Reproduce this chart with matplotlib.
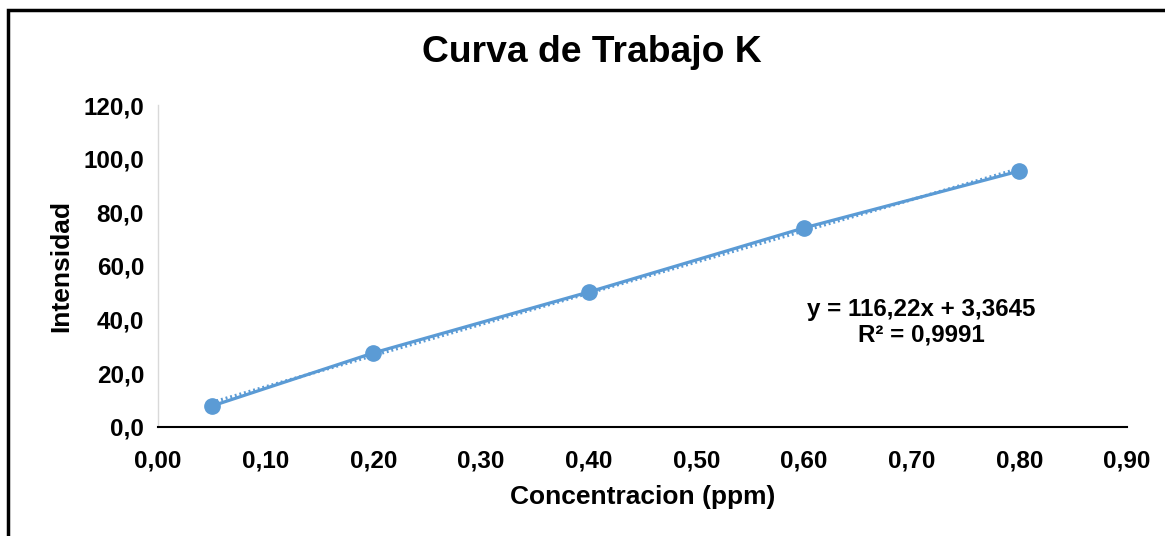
import matplotlib
matplotlib.use("Agg")
import matplotlib.pyplot as plt
from matplotlib.patches import Rectangle
import numpy as np

plt.rcParams['font.family'] = ['Liberation Sans', 'DejaVu Sans']

conc = [0.05, 0.20, 0.40, 0.60, 0.80]
intens = [7.8, 27.6, 50.3, 74.2, 95.4]
slope = 116.22
intercept = 3.3645
r2 = 0.9991
xticks = [0.0, 0.1, 0.2, 0.3, 0.4, 0.5, 0.6, 0.7, 0.8, 0.9]
yticks = [0, 20, 40, 60, 80, 100, 120]

color = '#5B9BD5'

fig = plt.figure(figsize=(11.65, 5.36), dpi=100)
ax = fig.add_axes([0.1356, 0.2034, 0.8318, 0.6007])

ax.plot(conc, intens, color=color, lw=2.3, marker='o', ms=11, zorder=3)
tx = np.array([conc[0], conc[-1]])
ax.plot(tx, slope * tx + intercept, color=color, lw=2.3, ls=(0, (0.6, 0.9)), zorder=2)

ax.set_xlim(0, 0.9)
ax.set_ylim(0, 120)
ax.set_xticks(xticks)
ax.set_yticks(yticks)
ax.set_xticklabels([f"{v:.2f}".replace('.', ',') for v in xticks], fontsize=17.5, fontweight='bold')
ax.set_yticklabels([f"{v:.1f}".replace('.', ',') for v in yticks], fontsize=17.5, fontweight='bold')
ax.tick_params(length=0, pad=10)
ax.tick_params(axis='x', pad=16)

for s in ['top', 'right']:
    ax.spines[s].set_visible(False)
ax.spines['left'].set_color('#D9D9D9')
ax.spines['left'].set_linewidth(1)
ax.spines['bottom'].set_color('black')
ax.spines['bottom'].set_linewidth(1.5)

ax.set_xlabel('Concentracion (ppm)', fontsize=19, fontweight='bold', labelpad=9)
ax.set_ylabel('Intensidad', fontsize=19, fontweight='bold', labelpad=7)

fig.text(0.508, 1 - 52/536, 'Curva de Trabajo K', fontsize=26.8, fontweight='bold', ha='center', va='center')

eq = f"y = {slope:.2f}x + {intercept:.4f}".replace('.', ',') + "\n" + f"R² = {r2:.4f}".replace('.', ',')
ax.text(0.709, 38.9, eq, fontsize=17.4, fontweight='bold', ha='center', va='center', linespacing=1.15)

fig.patches.append(Rectangle((8/1165, -0.1), 1.2, 1 - 10/536 + 0.1, transform=fig.transFigure,
                             fill=False, edgecolor='black', lw=2.5, zorder=10))

fig.savefig('out.png', dpi=100)
